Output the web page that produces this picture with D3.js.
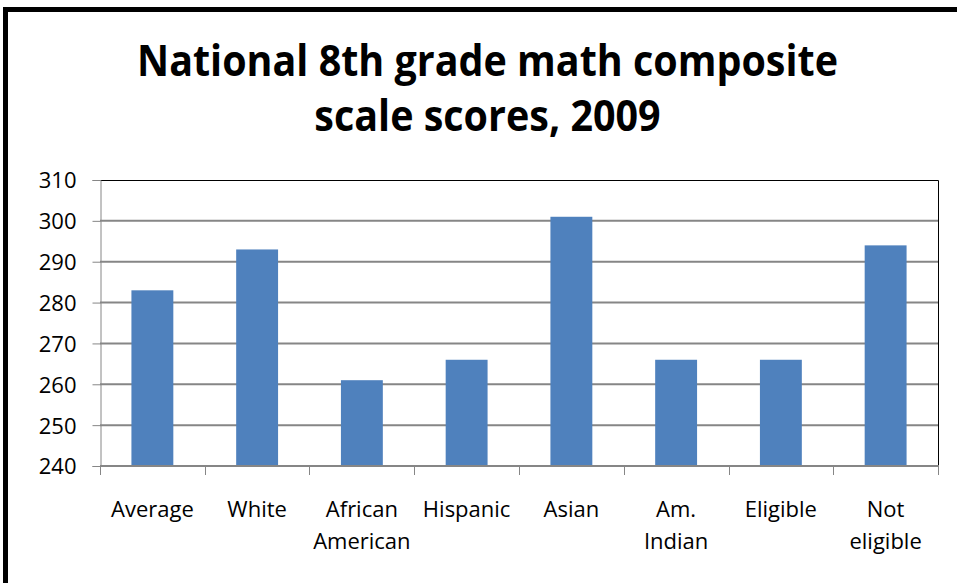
<!DOCTYPE html>
<html>
<head>
<meta charset="utf-8">
<script src="https://cdn.jsdelivr.net/npm/d3@7"></script>
<style>
  html, body { margin: 0; padding: 0; background: #fff; overflow: hidden; }
  svg { display: block; }
</style>
</head>
<body>
<svg id="chart" width="957" height="583"></svg>
<script>
// NAEP 2009, grade 8 mathematics, average composite scale scores
const categories = ["Average", "White", "African American", "Hispanic", "Asian", "Am. Indian", "Eligible", "Not eligible"];
const scores = [283, 293, 261, 266, 301, 266, 266, 294];
const yTicks = [240, 250, 260, 270, 280, 290, 300, 310];
const titleLines = ["National 8th grade math composite", "scale scores, 2009"];

const W = 957, H = 583;
const plot = { left: 100, right: 938, top: 180, bottom: 466 };
const barColor = "#4F81BD";
const gridColor = "#868686";
const font = "'Open Sans', 'DejaVu Sans', sans-serif";

const svg = d3.select("#chart");

// document frame around the embedded chart (left and top edges in view)
svg.append("path")
  .attr("d", `M5.5,${H}V9.5H${W}`)
  .attr("fill", "none").attr("stroke", "#000").attr("stroke-width", 5);

// title, condensed horizontally to a Calibri-like width
const titleG = svg.append("g");
const titleText = titleG.selectAll("text")
  .data(titleLines)
  .join("text")
  .attr("x", 0)
  .attr("y", (d, i) => 76 + i * 55)
  .attr("text-anchor", "middle")
  .attr("font-family", font)
  .attr("font-weight", 700)
  .attr("font-size", 43)
  .attr("fill", "#000")
  .text(d => d);
const natural = titleText.node().getComputedTextLength();
const squeeze = 701 / natural;
titleG.attr("transform", `translate(487.5,0) scale(${squeeze},1)`);

// scales
const x = d3.scaleBand()
  .domain(categories)
  .range([plot.left, plot.right])
  .paddingInner(0.6)
  .paddingOuter(0.3);

const y = d3.scaleLinear()
  .domain([d3.min(yTicks), d3.max(yTicks)])
  .range([plot.bottom, plot.top]);

// horizontal gridlines
svg.append("g")
  .selectAll("line")
  .data(yTicks.filter(t => t !== d3.min(yTicks) && t !== d3.max(yTicks)))
  .join("line")
  .attr("x1", plot.left).attr("x2", plot.right)
  .attr("y1", d => y(d)).attr("y2", d => y(d))
  .attr("stroke", gridColor).attr("stroke-width", 2);

// plot area border (top and right)
svg.append("path")
  .attr("d", `M${plot.left},${plot.top + 0.5}H${plot.right + 0.5}V${plot.bottom}`)
  .attr("fill", "none").attr("stroke", "#000").attr("stroke-width", 1);

// bars
svg.append("g")
  .selectAll("rect")
  .data(categories.map((c, i) => ({ c, v: scores[i] })))
  .join("rect")
  .attr("x", d => x(d.c))
  .attr("width", x.bandwidth())
  .attr("y", d => y(d.v))
  .attr("height", d => y(d3.min(yTicks)) - y(d.v))
  .attr("fill", barColor);

// y axis
const yAxis = svg.append("g")
  .attr("transform", `translate(${plot.left + 0.5},0)`)
  .call(d3.axisLeft(y).tickValues(yTicks).tickSize(8).tickPadding(16).tickFormat(d3.format("d")));
yAxis.select(".domain").attr("stroke", gridColor).attr("stroke-width", 1);
yAxis.selectAll(".tick line").attr("stroke", gridColor).attr("stroke-width", 1);
yAxis.selectAll(".tick text")
  .attr("font-family", font).attr("font-size", 22).attr("fill", "#000")
  .attr("dy", "0.36em");

// x axis line with ticks on category boundaries
const step = x.step();
const gap = (step - x.bandwidth()) / 2;
const boundaries = categories.map(c => x(c) - gap).concat([x(categories[categories.length - 1]) + x.bandwidth() + gap]);
const xAxis = svg.append("g");
xAxis.append("line")
  .attr("x1", plot.left).attr("x2", plot.right + 1)
  .attr("y1", plot.bottom).attr("y2", plot.bottom)
  .attr("stroke", gridColor).attr("stroke-width", 2);
xAxis.selectAll(".btick")
  .data(boundaries)
  .join("line")
  .attr("class", "btick")
  .attr("x1", d => Math.round(d) + 0.5).attr("x2", d => Math.round(d) + 0.5)
  .attr("y1", plot.bottom).attr("y2", plot.bottom + 9)
  .attr("stroke", gridColor).attr("stroke-width", 1);

// category labels, one word per line for multi-word names
const labels = xAxis.selectAll(".clabel")
  .data(categories)
  .join("text")
  .attr("class", "clabel")
  .attr("x", d => x(d) + x.bandwidth() / 2)
  .attr("y", 517)
  .attr("text-anchor", "middle")
  .attr("font-family", font).attr("font-size", 22).attr("fill", "#000");
labels.selectAll("tspan")
  .data(d => d.split(" "))
  .join("tspan")
  .attr("x", function () { return d3.select(this.parentNode).attr("x"); })
  .attr("dy", (d, i) => i === 0 ? 0 : 32)
  .text(d => d);
</script>
</body>
</html>
